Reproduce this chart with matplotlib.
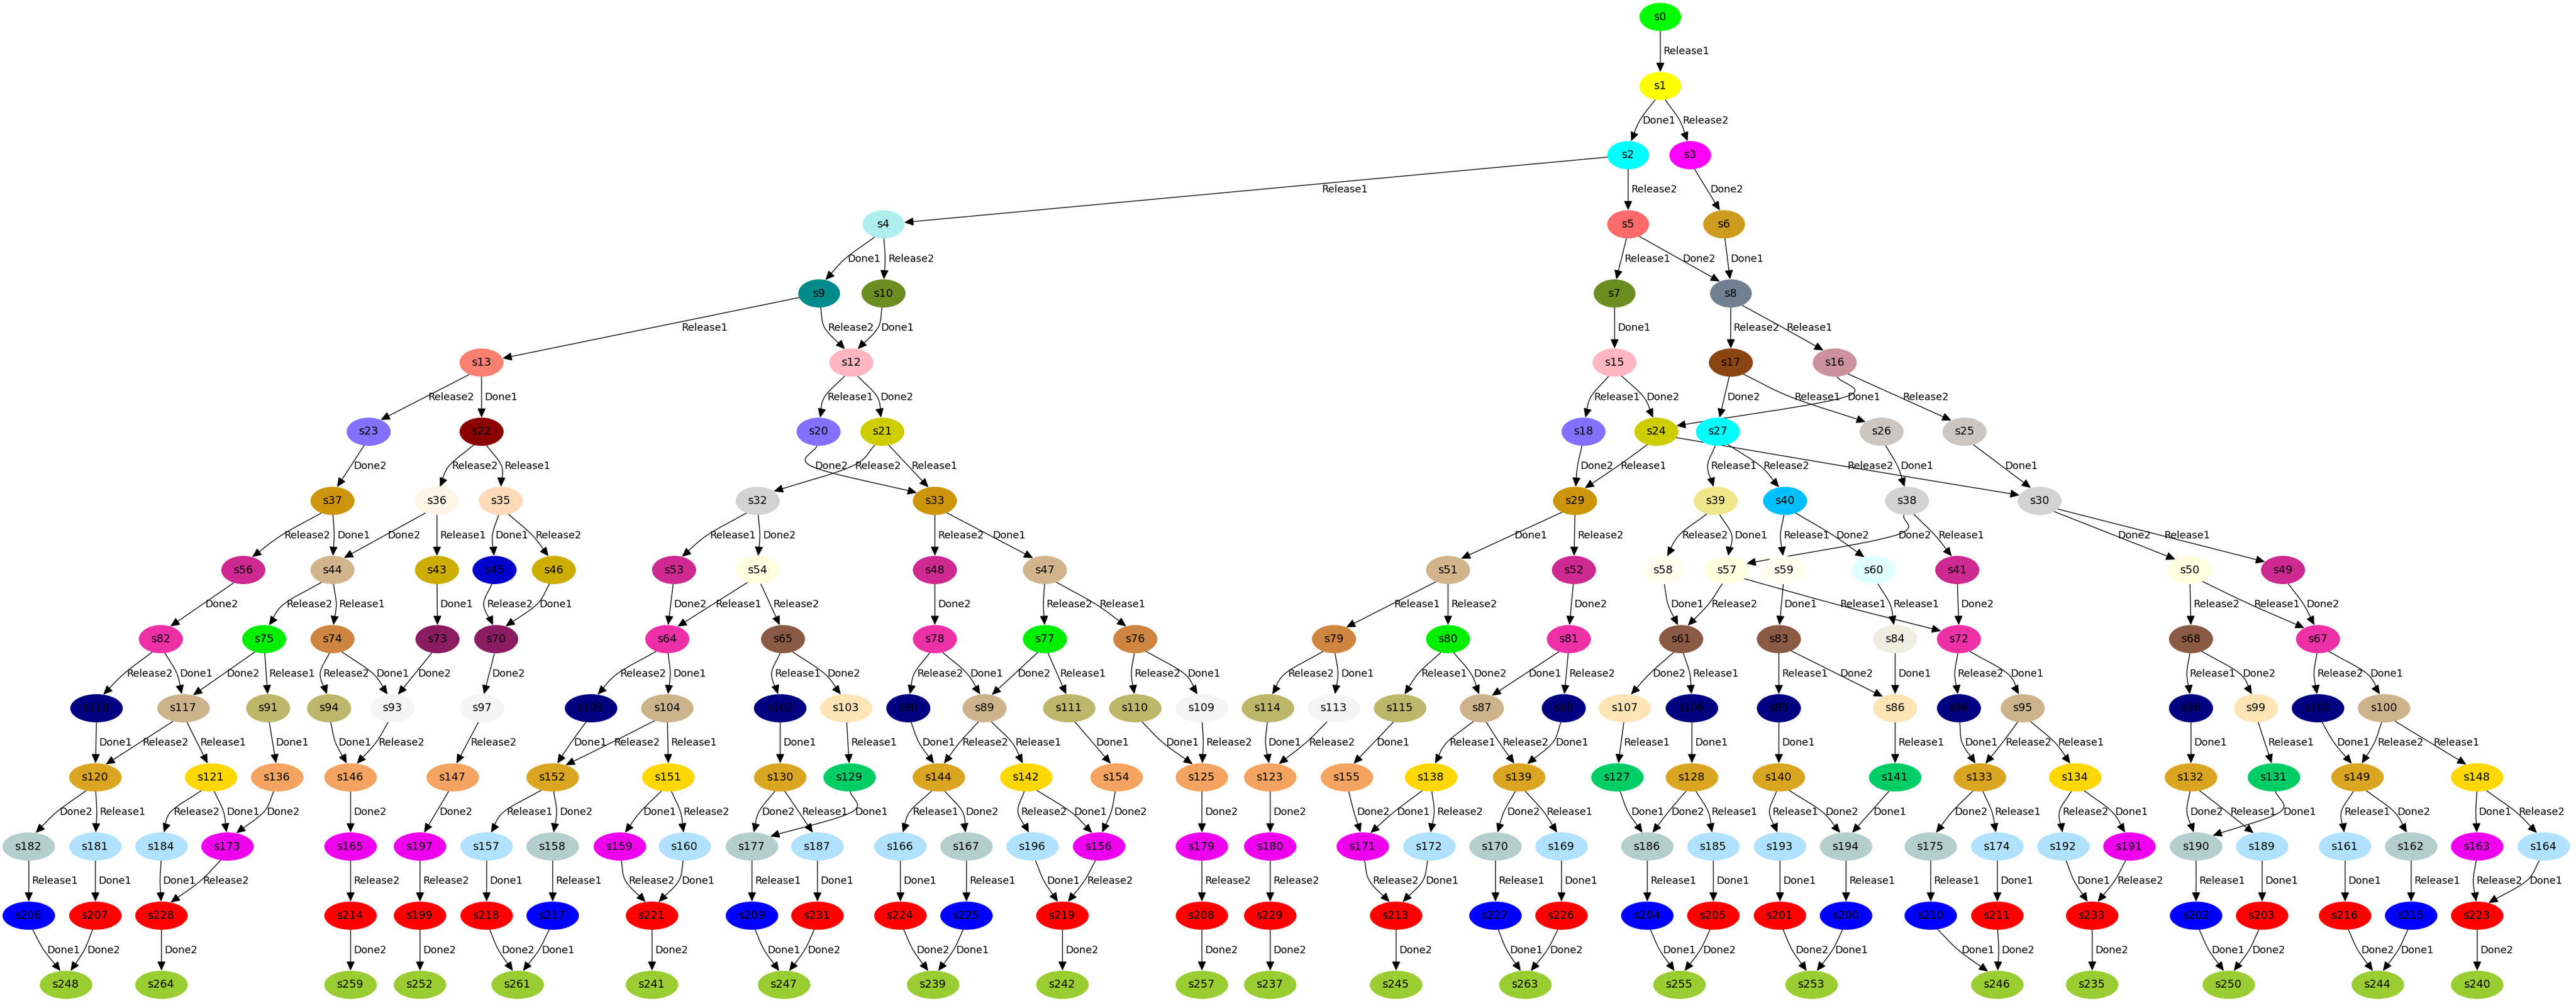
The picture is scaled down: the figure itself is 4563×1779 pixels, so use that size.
import numpy as np
import matplotlib
matplotlib.use("Agg")
import matplotlib.pyplot as plt
from matplotlib.patches import Ellipse, FancyArrowPatch
from matplotlib.path import Path
from matplotlib.textpath import TextPath
from matplotlib.font_manager import FontProperties

# ---------------- data ----------------
row_names = [
    ["s0"],
    ["s1"],
    ["s2", "s3"],
    ["s4", "s5", "s6"],
    ["s9", "s10", "s7", "s8"],
    ["s13", "s12", "s15", "s17", "s16"],
    ["s23", "s22", "s20", "s21", "s18", "s24", "s27", "s26", "s25"],
    ["s37", "s36", "s35", "s32", "s33", "s29", "s39", "s40", "s38", "s30"],
    ["s56", "s44", "s43", "s45", "s46", "s53", "s54", "s48", "s47", "s51", "s52",
     "s58", "s57", "s59", "s60", "s41", "s50", "s49"],
    ["s82", "s75", "s74", "s73", "s70", "s64", "s65", "s78", "s77", "s76", "s79",
     "s80", "s81", "s61", "s83", "s84", "s72", "s68", "s67"],
    ["s118", "s117", "s91", "s94", "s93", "s97", "s105", "s104", "s102", "s103",
     "s90", "s89", "s111", "s110", "s109", "s114", "s113", "s115", "s87", "s88",
     "s107", "s106", "s85", "s86", "s96", "s95", "s98", "s99", "s101", "s100"],
    ["s120", "s121", "s136", "s146", "s147", "s152", "s151", "s130", "s129", "s144",
     "s142", "s154", "s125", "s123", "s155", "s138", "s139", "s127", "s128", "s140",
     "s141", "s133", "s134", "s132", "s131", "s149", "s148"],
    ["s182", "s181", "s184", "s173", "s165", "s197", "s157", "s158", "s159", "s160",
     "s177", "s187", "s166", "s167", "s196", "s156", "s179", "s180", "s171", "s172",
     "s170", "s169", "s186", "s185", "s193", "s194", "s175", "s174", "s192", "s191",
     "s190", "s189", "s161", "s162", "s163", "s164"],
    ["s206", "s207", "s228", "s214", "s199", "s218", "s217", "s221", "s209", "s231",
     "s224", "s225", "s219", "s208", "s229", "s213", "s227", "s226", "s204", "s205",
     "s201", "s200", "s210", "s211", "s233", "s202", "s203", "s216", "s215", "s223"],
    ["s248", "s264", "s259", "s252", "s261", "s241", "s247", "s239", "s242", "s257",
     "s237", "s245", "s263", "s255", "s253", "s246", "s235", "s250", "s244", "s240"],
]
row_x = [
    [2941],
    [2941],
    [2884, 2994],
    [1565, 2884, 3054],
    [1451, 1565, 2860, 3066],
    [853, 1508, 2860, 3066, 3250],
    [653, 853, 1450, 1563, 2805, 2934, 3043, 3333, 3480],
    [589, 774, 887, 1342, 1656, 2790, 3039, 3162, 3378, 3613],
    [431, 589, 774, 876, 981, 1194, 1342, 1656, 1851, 2565, 2788,
     2946, 3059, 3160, 3319, 3467, 3879, 4044],
    [285, 468, 589, 775, 879, 1182, 1387, 1656, 1851, 2011, 2363,
     2565, 2779, 2978, 3151, 3357, 3470, 3881, 4106],
    [171, 325, 475, 583, 695, 854, 1047, 1182, 1382, 1499,
     1609, 1744, 1894, 2011, 2129, 2246, 2363, 2480, 2625, 2770,
     2878, 2997, 3151, 3357, 3470, 3583, 3881, 3996, 4106, 4223],
    [169, 374, 491, 621, 802, 979, 1184, 1382, 1505, 1663,
     1818, 1978, 2129, 2250, 2386, 2535, 2691, 2865, 2997, 3151,
     3357, 3507, 3676, 3881, 4028, 4176, 4388],
    [51, 169, 286, 403, 621, 744, 862, 979, 1098, 1213,
     1332, 1448, 1595, 1712, 1829, 1947, 2129, 2250, 2414, 2532,
     2649, 2766, 2918, 3035, 3153, 3270, 3420, 3538, 3655, 3772,
     3890, 4007, 4154, 4271, 4388, 4506],
    [51, 169, 286, 621, 744, 862, 979, 1155, 1332, 1448,
     1595, 1712, 1882, 2129, 2250, 2473, 2649, 2766, 2918, 3035,
     3153, 3270, 3420, 3538, 3706, 3890, 4007, 4154, 4271, 4388],
    [117, 286, 621, 744, 917, 1155, 1389, 1653, 1882, 2129,
     2250, 2473, 2702, 2975, 3209, 3538, 3706, 3948, 4212, 4388],
]

edges = [
    ("s0", "s1", "Release1"),
    ("s1", "s2", "Done1"), ("s1", "s3", "Release2"),
    ("s2", "s4", "Release1"), ("s2", "s5", "Release2"),
    ("s3", "s6", "Done2"),
    ("s4", "s9", "Done1"), ("s4", "s10", "Release2"),
    ("s5", "s7", "Release1"), ("s5", "s8", "Done2"),
    ("s6", "s8", "Done1"),
    ("s9", "s13", "Release1"), ("s9", "s12", "Release2"),
    ("s10", "s12", "Done1"),
    ("s7", "s15", "Done1"),
    ("s8", "s17", "Release2"), ("s8", "s16", "Release1"),
    ("s13", "s23", "Release2"), ("s13", "s22", "Done1"),
    ("s12", "s20", "Release1"), ("s12", "s21", "Done2"),
    ("s15", "s18", "Release1"), ("s15", "s24", "Done2"),
    ("s17", "s27", "Done2"), ("s17", "s26", "Release1"),
    ("s16", "s24", "Done1"), ("s16", "s25", "Release2"),
    ("s23", "s37", "Done2"),
    ("s22", "s36", "Release2"), ("s22", "s35", "Release1"),
    ("s20", "s33", "Done2"),
    ("s21", "s32", "Release2"), ("s21", "s33", "Release1"),
    ("s18", "s29", "Done2"),
    ("s24", "s29", "Release1"), ("s24", "s30", "Release2"),
    ("s27", "s39", "Release1"), ("s27", "s40", "Release2"),
    ("s26", "s38", "Done1"),
    ("s25", "s30", "Done1"),
    ("s37", "s56", "Release2"), ("s37", "s44", "Done1"),
    ("s36", "s44", "Done2"), ("s36", "s43", "Release1"),
    ("s35", "s45", "Done1"), ("s35", "s46", "Release2"),
    ("s32", "s53", "Release1"), ("s32", "s54", "Done2"),
    ("s33", "s48", "Release2"), ("s33", "s47", "Done1"),
    ("s29", "s51", "Done1"), ("s29", "s52", "Release2"),
    ("s39", "s58", "Release2"), ("s39", "s57", "Done1"),
    ("s40", "s59", "Release1"), ("s40", "s60", "Done2"),
    ("s38", "s57", "Done2"), ("s38", "s41", "Release1"),
    ("s30", "s50", "Done2"), ("s30", "s49", "Release1"),
    ("s56", "s82", "Done2"),
    ("s44", "s75", "Release2"), ("s44", "s74", "Release1"),
    ("s43", "s73", "Done1"),
    ("s45", "s70", "Release2"),
    ("s46", "s70", "Done1"),
    ("s53", "s64", "Done2"),
    ("s54", "s64", "Release1"), ("s54", "s65", "Release2"),
    ("s48", "s78", "Done2"),
    ("s47", "s77", "Release2"), ("s47", "s76", "Release1"),
    ("s51", "s79", "Release1"), ("s51", "s80", "Release2"),
    ("s52", "s81", "Done2"),
    ("s58", "s61", "Done1"),
    ("s57", "s61", "Release2"), ("s57", "s72", "Release1"),
    ("s59", "s83", "Done1"),
    ("s60", "s84", "Release1"),
    ("s41", "s72", "Done2"),
    ("s50", "s68", "Release2"), ("s50", "s67", "Release1"),
    ("s49", "s67", "Done2"),
    ("s82", "s118", "Release2"), ("s82", "s117", "Done1"),
    ("s75", "s117", "Done2"), ("s75", "s91", "Release1"),
    ("s74", "s94", "Release2"), ("s74", "s93", "Done1"),
    ("s73", "s93", "Done2"),
    ("s70", "s97", "Done2"),
    ("s64", "s105", "Release2"), ("s64", "s104", "Done1"),
    ("s65", "s102", "Release1"), ("s65", "s103", "Done2"),
    ("s78", "s90", "Release2"), ("s78", "s89", "Done1"),
    ("s77", "s89", "Done2"), ("s77", "s111", "Release1"),
    ("s76", "s110", "Release2"), ("s76", "s109", "Done1"),
    ("s79", "s114", "Release2"), ("s79", "s113", "Done1"),
    ("s80", "s115", "Release1"), ("s80", "s87", "Done2"),
    ("s81", "s87", "Done1"), ("s81", "s88", "Release2"),
    ("s61", "s107", "Done2"), ("s61", "s106", "Release1"),
    ("s83", "s85", "Release1"), ("s83", "s86", "Done2"),
    ("s84", "s86", "Done1"),
    ("s72", "s96", "Release2"), ("s72", "s95", "Done1"),
    ("s68", "s98", "Release1"), ("s68", "s99", "Done2"),
    ("s67", "s101", "Release2"), ("s67", "s100", "Done1"),
    ("s118", "s120", "Done1"),
    ("s117", "s120", "Release2"), ("s117", "s121", "Release1"),
    ("s91", "s136", "Done1"),
    ("s94", "s146", "Done1"),
    ("s93", "s146", "Release2"),
    ("s97", "s147", "Release2"),
    ("s105", "s152", "Done1"),
    ("s104", "s152", "Release2"), ("s104", "s151", "Release1"),
    ("s102", "s130", "Done1"),
    ("s103", "s129", "Release1"),
    ("s90", "s144", "Done1"),
    ("s89", "s144", "Release2"), ("s89", "s142", "Release1"),
    ("s111", "s154", "Done1"),
    ("s110", "s125", "Done1"),
    ("s109", "s125", "Release2"),
    ("s114", "s123", "Done1"),
    ("s113", "s123", "Release2"),
    ("s115", "s155", "Done1"),
    ("s87", "s138", "Release1"), ("s87", "s139", "Release2"),
    ("s88", "s139", "Done1"),
    ("s107", "s127", "Release1"),
    ("s106", "s128", "Done1"),
    ("s85", "s140", "Done1"),
    ("s86", "s141", "Release1"),
    ("s96", "s133", "Done1"),
    ("s95", "s133", "Release2"), ("s95", "s134", "Release1"),
    ("s98", "s132", "Done1"),
    ("s99", "s131", "Release1"),
    ("s101", "s149", "Done1"),
    ("s100", "s149", "Release2"), ("s100", "s148", "Release1"),
    ("s120", "s182", "Done2"), ("s120", "s181", "Release1"),
    ("s121", "s184", "Release2"), ("s121", "s173", "Done1"),
    ("s136", "s173", "Done2"),
    ("s146", "s165", "Done2"),
    ("s147", "s197", "Done2"),
    ("s152", "s157", "Release1"), ("s152", "s158", "Done2"),
    ("s151", "s159", "Done1"), ("s151", "s160", "Release2"),
    ("s130", "s177", "Done2"), ("s130", "s187", "Release1"),
    ("s129", "s177", "Done1"),
    ("s144", "s166", "Release1"), ("s144", "s167", "Done2"),
    ("s142", "s196", "Release2"), ("s142", "s156", "Done1"),
    ("s154", "s156", "Done2"),
    ("s125", "s179", "Done2"),
    ("s123", "s180", "Done2"),
    ("s155", "s171", "Done2"),
    ("s138", "s171", "Done1"), ("s138", "s172", "Release2"),
    ("s139", "s170", "Done2"), ("s139", "s169", "Release1"),
    ("s127", "s186", "Done1"),
    ("s128", "s186", "Done2"), ("s128", "s185", "Release1"),
    ("s140", "s193", "Release1"), ("s140", "s194", "Done2"),
    ("s141", "s194", "Done1"),
    ("s133", "s175", "Done2"), ("s133", "s174", "Release1"),
    ("s134", "s192", "Release2"), ("s134", "s191", "Done1"),
    ("s132", "s190", "Done2"), ("s132", "s189", "Release1"),
    ("s131", "s190", "Done1"),
    ("s149", "s161", "Release1"), ("s149", "s162", "Done2"),
    ("s148", "s163", "Done1"), ("s148", "s164", "Release2"),
    ("s182", "s206", "Release1"), ("s181", "s207", "Done1"),
    ("s184", "s228", "Done1"), ("s173", "s228", "Release2"),
    ("s165", "s214", "Release2"), ("s197", "s199", "Release2"),
    ("s157", "s218", "Done1"), ("s158", "s217", "Release1"),
    ("s159", "s221", "Release2"), ("s160", "s221", "Done1"),
    ("s177", "s209", "Release1"), ("s187", "s231", "Done1"),
    ("s166", "s224", "Done1"), ("s167", "s225", "Release1"),
    ("s196", "s219", "Done1"), ("s156", "s219", "Release2"),
    ("s179", "s208", "Release2"), ("s180", "s229", "Release2"),
    ("s171", "s213", "Release2"), ("s172", "s213", "Done1"),
    ("s170", "s227", "Release1"), ("s169", "s226", "Done1"),
    ("s186", "s204", "Release1"), ("s185", "s205", "Done1"),
    ("s193", "s201", "Done1"), ("s194", "s200", "Release1"),
    ("s175", "s210", "Release1"), ("s174", "s211", "Done1"),
    ("s192", "s233", "Done1"), ("s191", "s233", "Release2"),
    ("s190", "s202", "Release1"), ("s189", "s203", "Done1"),
    ("s161", "s216", "Done1"), ("s162", "s215", "Release1"),
    ("s163", "s223", "Release2"), ("s164", "s223", "Done1"),
    ("s206", "s248", "Done1"), ("s207", "s248", "Done2"),
    ("s228", "s264", "Done2"), ("s214", "s259", "Done2"),
    ("s199", "s252", "Done2"), ("s218", "s261", "Done2"),
    ("s217", "s261", "Done1"), ("s221", "s241", "Done2"),
    ("s209", "s247", "Done1"), ("s231", "s247", "Done2"),
    ("s224", "s239", "Done2"), ("s225", "s239", "Done1"),
    ("s219", "s242", "Done2"), ("s208", "s257", "Done2"),
    ("s229", "s237", "Done2"), ("s213", "s245", "Done2"),
    ("s227", "s263", "Done1"), ("s226", "s263", "Done2"),
    ("s204", "s255", "Done1"), ("s205", "s255", "Done2"),
    ("s201", "s253", "Done2"), ("s200", "s253", "Done1"),
    ("s210", "s246", "Done1"), ("s211", "s246", "Done2"),
    ("s233", "s235", "Done2"), ("s202", "s250", "Done1"),
    ("s203", "s250", "Done2"), ("s216", "s244", "Done2"),
    ("s215", "s244", "Done1"), ("s223", "s240", "Done2"),
]

# ---------------- styles ----------------
color_groups = {
    "#00ff00": ["s0"],
    "#ffff00": ["s1"],
    "#00ffff": ["s2", "s27"],
    "#ff00ff": ["s3"],
    "#afeeee": ["s4"],
    "#ff6a6a": ["s5"],
    "#cd9b1d": ["s6"],
    "#6b8e23": ["s7", "s10"],
    "#708090": ["s8"],
    "#008b8b": ["s9"],
    "#ffb6c1": ["s12", "s15"],
    "#fa8072": ["s13"],
    "#cd919e": ["s16"],
    "#8b4513": ["s17"],
    "#8470ff": ["s18", "s20", "s23"],
    "#cdcd00": ["s21", "s24"],
    "#8b0000": ["s22"],
    "#cdc5bf": ["s25", "s26"],
    "#cd950c": ["s29", "s33", "s37"],
    "#d3d3d3": ["s30", "s32", "s38"],
    "#ffdab9": ["s35"],
    "#fdf5e6": ["s36"],
    "#f0e68c": ["s39"],
    "#00bfff": ["s40"],
    "#cd2990": ["s41", "s48", "s49", "s52", "s53", "s56"],
    "#cdad00": ["s43", "s46"],
    "#d2b48c": ["s44", "s47", "s51"],
    "#0000cd": ["s45"],
    "#ffffe0": ["s50", "s54", "s57"],
    "#fffff0": ["s58", "s59"],
    "#e0ffff": ["s60"],
    "#8b5a45": ["s61", "s65", "s68", "s83"],
    "#ee30a7": ["s64", "s67", "s72", "s78", "s81", "s82"],
    "#8b1c62": ["s70", "s73"],
    "#cd853f": ["s74", "s76", "s79"],
    "#00ee00": ["s75", "s77", "s80"],
    "#eeeee0": ["s84"],
    "#000080": ["s85", "s88", "s90", "s96", "s98", "s101", "s102", "s105", "s106", "s118"],
    "#ffe4b5": ["s86", "s99", "s103", "s107"],
    "#cdb38b": ["s87", "s89", "s95", "s100", "s104", "s117"],
    "#bdb76b": ["s91", "s94", "s110", "s111", "s114", "s115"],
    "#f5f5f5": ["s93", "s97", "s109", "s113"],
    "#daa520": ["s120", "s128", "s130", "s132", "s133", "s139", "s140", "s144", "s149", "s152"],
    "#ffd700": ["s121", "s134", "s138", "s142", "s148", "s151"],
    "#f4a460": ["s123", "s125", "s136", "s146", "s147", "s154", "s155"],
    "#00cd66": ["s127", "s129", "s131", "s141"],
    "#b0e2ff": ["s157", "s160", "s161", "s164", "s166", "s169", "s172", "s174", "s181",
                "s184", "s185", "s187", "s189", "s192", "s193", "s196"],
    "#b4cdcd": ["s158", "s162", "s167", "s170", "s175", "s177", "s182", "s186", "s190", "s194"],
    "#ee00ee": ["s156", "s159", "s163", "s165", "s171", "s173", "s179", "s180", "s191", "s197"],
    "#ff0000": ["s199", "s201", "s203", "s205", "s207", "s208", "s211", "s213", "s214", "s216",
                "s218", "s219", "s221", "s223", "s224", "s226", "s228", "s229", "s231", "s233"],
    "#0000ff": ["s200", "s202", "s204", "s206", "s209", "s210", "s215", "s217", "s225", "s227"],
    "#9acd32": ["s235", "s237", "s239", "s240", "s241", "s242", "s244", "s245", "s246", "s247",
                "s248", "s250", "s252", "s253", "s255", "s257", "s259", "s261", "s263", "s264"],
}

ROW_Y0, ROW_DY = 30.0, 122.5
NODE_H = 50.0
NODE_W = {2: 74.0, 3: 78.0, 4: 93.0}
EDGE_FS = 12.9
NODE_FS = 14.0
LABEL_GAP = 5.0      # edge line -> label text
AFTER_GAP = 11.0     # label text -> next edge line
PORT_BIAS = 1.6      # edges leave/enter nodes closer to bottom/top
straight_edges = {("s2", "s4"), ("s9", "s13")}
# where along the edge (fraction of dx) the edge crosses mid-rank
mid_frac = {("s20", "s33"): 0.0, ("s21", "s32"): 0.3, ("s129", "s177"): 0.05,
            ("s131", "s190"): 0.0, ("s38", "s57"): 0.05, ("s16", "s24"): 0.03}
label_nudge = {("s2", "s4"): 112, ("s9", "s13"): 50}

# ---------------- build ----------------
node_color = {n: c for c, ns in color_groups.items() for n in ns}
pos, rank = {}, {}
for r, (names, xs) in enumerate(zip(row_names, row_x)):
    for n, x in zip(names, xs):
        pos[n] = (float(x), ROW_Y0 + ROW_DY * r)
        rank[n] = r

fp = FontProperties(family="DejaVu Sans")
px_per_pt = 100.0 / 72.0


def text_w(s):
    return TextPath((0, 0), s, size=EDGE_FS * px_per_pt, prop=fp).get_extents().width


def radii(n):
    return NODE_W[len(n)] / 2.0, NODE_H / 2.0


def boundary(n, v):
    cx, cy = pos[n]
    rx, ry = radii(n)
    ux, uy = v / np.hypot(*v)
    t = 1.0 / np.sqrt((ux / rx) ** 2 + (uy / ry) ** 2)
    return np.array([cx + ux * t, cy + uy * t])


def isotonic(vals, wts):
    blocks = []
    for v, w in zip(vals, wts):
        blocks.append([v * w, w, 1])
        while len(blocks) > 1 and blocks[-2][0] / blocks[-2][1] > blocks[-1][0] / blocks[-1][1]:
            a = blocks.pop()
            blocks[-1][0] += a[0]
            blocks[-1][1] += a[1]
            blocks[-1][2] += a[2]
    out = []
    for s, w, c in blocks:
        out += [s / w] * c
    return out


# place edge crossings at mid-rank, keeping labels from overlapping
mid_x = {}
for r in range(len(row_names) - 1):
    group = [e for e in edges if rank[e[0]] == r]
    items = []
    for s, d, lab in group:
        xs, xd = pos[s][0], pos[d][0]
        f = mid_frac.get((s, d), 0.5)
        items.append((xs + f * (xd - xs), xs, (s, d), LABEL_GAP + text_w(lab) + AFTER_GAP,
                      4.0 if xs == xd else 1.0))
    items.sort(key=lambda it: (it[0], it[1]))
    offs = np.concatenate([[0.0], np.cumsum([it[3] for it in items])[:-1]])
    fit = isotonic([it[0] - o for it, o in zip(items, offs)], [it[4] for it in items])
    for it, o, fv in zip(items, offs, fit):
        mid_x[it[2]] = fv + o

fig = plt.figure(figsize=(45.63, 17.79), dpi=100)
ax = fig.add_axes([0, 0, 1, 1])
ax.set_xlim(0, 4563)
ax.set_ylim(1779, 0)
ax.axis("off")

M, C = Path.MOVETO, Path.CURVE4
bias = np.array([1.0, PORT_BIAS])
for s, d, lab in edges:
    A = np.array(pos[s])
    B = np.array(pos[d])
    ym = (A[1] + B[1]) / 2.0
    xm = mid_x[(s, d)]
    if (s, d) in straight_edges:
        P0 = boundary(s, B - A)
        P3 = boundary(d, A - B)
        D = P3 - P0
        path = Path([P0, P0 + D / 3, P0 + 2 * D / 3, P3], [M, C, C, C])
        t = (ym - P0[1]) / D[1]
        xm = P0[0] + t * D[0]
    else:
        Pm = np.array([xm, ym])
        P0 = boundary(s, (Pm - A) * bias)
        P3 = boundary(d, (Pm - B) * bias)
        t0 = Pm - P0
        tm = (P3 - P0) * 0.5
        t3 = P3 - Pm
        path = Path([P0, P0 + t0 / 3, Pm - tm / 3, Pm, Pm + tm / 3, P3 - t3 / 3, P3],
                    [M, C, C, C, C, C, C])
    ax.add_patch(FancyArrowPatch(path=path, arrowstyle="-|>,head_length=1.0,head_width=0.45",
                                 mutation_scale=10, lw=1.0, color="black", zorder=1))
    ax.text(xm + LABEL_GAP + label_nudge.get((s, d), 0), ym, lab, fontsize=EDGE_FS,
            ha="left", va="center", color="black", zorder=3)

for n, (x, y) in pos.items():
    rx, ry = radii(n)
    ax.add_patch(Ellipse((x, y), 2 * rx, 2 * ry, facecolor=node_color.get(n, "#ffffff"),
                         edgecolor="none", zorder=2))
    ax.text(x, y, n, fontsize=NODE_FS, ha="center", va="center", color="black", zorder=4)

fig.savefig("out.png", dpi=100, facecolor="white")
